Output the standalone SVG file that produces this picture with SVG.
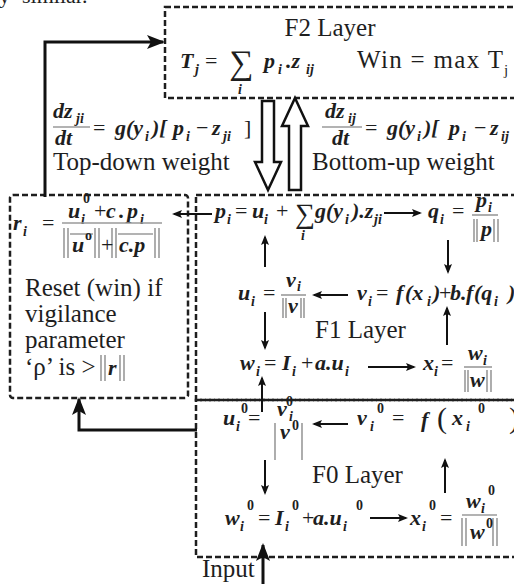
<svg xmlns="http://www.w3.org/2000/svg" width="514" height="584" viewBox="0 0 514 584">
<style>
text{font-family:"Liberation Serif","Times New Roman",serif;fill:#1e1e1e}
.t{font-size:25px}
.m{font-size:22px;font-weight:bold;font-style:italic}
.s{font-size:14px;font-weight:bold;font-style:italic}
.z{font-size:14px;font-weight:bold}
.o{font-size:22px}
.box{fill:none;stroke:#1e1e1e;stroke-width:2.5;stroke-dasharray:6 3}
.c{fill:none;stroke:#111;stroke-width:3}
.a{fill:none;stroke:#111;stroke-width:2}
.n{stroke:#9a9a9a;stroke-width:1.6;fill:none}
.h{fill:#fff;stroke:#111;stroke-width:2.5}
</style>
<defs>
<marker id="ab" markerUnits="userSpaceOnUse" markerWidth="18" markerHeight="14" refX="16" refY="7" orient="auto"><path d="M0,0 L18,7 L0,14 L4,7 z" fill="#111"/></marker>
<marker id="as" markerUnits="userSpaceOnUse" markerWidth="10" markerHeight="8" refX="8" refY="4" orient="auto"><path d="M0,0 L10,4 L0,8 L2,4 z" fill="#111"/></marker>
</defs>

<text x="-1" y="2.5" font-size="22">y</text><text x="22" y="2.5" font-size="22">similar.</text>

<g id="F2">
<rect class="box" x="165" y="7" width="400" height="91"/>
<text class="t" x="330" y="36" text-anchor="middle">F2 Layer</text>
<text class="m" x="180" y="68" font-size="23">T</text><text class="s" x="195" y="74">j</text>
<text class="o" x="205" y="68">=</text>
<text x="229" y="74" font-size="34">∑</text><text class="s" x="238" y="94">i</text>
<text class="m" x="264" y="68">p</text><text class="s" x="278" y="74">i</text>
<text class="m" x="286" y="68">.z</text><text class="s" x="306" y="74">ij</text>
<text class="t" x="357" y="68" font-size="26" textLength="146" lengthAdjust="spacing">Win = max T</text><text x="504" y="75" font-size="15">j</text>
</g>

<g id="topdown">
<text class="m" x="53" y="118">dz</text><text class="s" x="76" y="123">ji</text>
<line class="n" x1="53" y1="127" x2="90" y2="127"/>
<text class="m" x="55" y="145">dt</text>
<text class="o" x="93" y="135">=</text>
<text class="m" x="115" y="135">g(y</text><text class="s" x="145" y="141">i</text>
<text class="m" x="152" y="135">)[</text>
<text class="m" x="173" y="135">p</text><text class="s" x="186" y="141">i</text>
<text class="o" x="196" y="135">−</text>
<text class="m" x="212" y="135">z</text><text class="s" x="223" y="141">ji</text>
<text class="o" x="244" y="135">]</text>
<text class="t" x="53" y="170">Top-down weight</text>
</g>

<g id="bottomup">
<text class="m" x="325" y="118">dz</text><text class="s" x="348" y="123">ij</text>
<line class="n" x1="322" y1="127" x2="362" y2="127"/>
<text class="m" x="332" y="145">dt</text>
<text class="o" x="365" y="135">=</text>
<text class="m" x="387" y="135">g(y</text><text class="s" x="417" y="141">i</text>
<text class="m" x="424" y="135">)[</text>
<text class="m" x="449" y="135">p</text><text class="s" x="462" y="141">i</text>
<text class="o" x="474" y="135">−</text>
<text class="m" x="490" y="135">z</text><text class="s" x="501" y="141">ij</text>
<text class="t" x="312" y="170">Bottom-up weight</text>
</g>

<g id="hollow">
<polygon class="h" points="262,101 274,101 274,162 281,162 268,190 255,162 262,162"/>
<polygon class="h" points="295,98 308,126 301,126 301,190 289,190 289,126 282,126"/>
</g>

<g id="reset">
<rect class="box" x="10" y="195" width="178" height="203" rx="3"/>
<text class="m" x="13" y="230">r</text><text class="s" x="23" y="236">i</text>
<text class="o" x="42" y="230">=</text>
<text class="m" x="68" y="218">u</text><text class="s" x="81" y="224">i</text><text class="z" x="83" y="203">0</text>
<text class="o" x="94" y="218">+</text>
<text class="m" x="106" y="218">c</text><text class="m" x="119" y="218">.</text><text class="m" x="127" y="218">p</text><text class="s" x="140" y="224">i</text>
<line class="n" x1="62" y1="223" x2="162" y2="223"/>
<path class="n" d="M64,228V258M68,228V258M95,228V258M99,228V258M112,228V258M116,228V258M155,228V258M159,228V258M70,234H93M118,234H153"/>
<text class="m" x="72" y="252">u</text><text class="z" x="85" y="240" font-size="10">o</text>
<text class="o" x="101" y="252">+</text>
<text class="m" x="119" y="252">c.p</text>
<text class="t" x="25" y="296">Reset (win) if</text>
<text class="t" x="25" y="322">vigilance</text>
<text class="t" x="25" y="348">parameter</text>
<text class="t" x="25" y="375">‘ρ’ is &gt;</text>
<path class="n" d="M101,355V381M105,355V381M120,355V381M124,355V381"/>
<text class="m" x="108" y="375">r</text>
</g>

<g id="F1">
<rect class="box" x="196" y="195" width="330" height="205"/>
<text class="m" x="215" y="218">p</text><text class="s" x="227" y="224">i</text>
<text class="o" x="235" y="218">=</text>
<text class="m" x="252" y="218">u</text><text class="s" x="264" y="224">i</text>
<text class="o" x="276" y="218">+</text>
<text x="295" y="223" font-size="28">∑</text><text class="s" x="301" y="240">i</text>
<text class="m" x="315" y="218">g(y</text><text class="s" x="345" y="224">i</text>
<text class="m" x="352" y="218">).z</text><text class="s" x="374" y="224">ji</text>
<text class="m" x="428" y="218">q</text><text class="s" x="440" y="224">i</text>
<text class="o" x="452" y="218">=</text>
<text class="m" x="476" y="207">p</text><text class="s" x="488" y="212">i</text>
<line class="n" x1="472" y1="215" x2="498" y2="215"/>
<path class="n" d="M474,219V242M477,219V242M494,219V242M498,219V242"/>
<text class="m" x="481" y="236">p</text>

<text class="m" x="238" y="300">u</text><text class="s" x="251" y="306">i</text>
<text class="o" x="263" y="300">=</text>
<text class="m" x="286" y="287">v</text><text class="s" x="297" y="291">i</text>
<line class="n" x1="281" y1="295" x2="306" y2="295"/>
<path class="n" d="M283,298V318M286,298V318M301,298V318M304,298V318"/>
<text class="m" x="288" y="313">v</text>
<text class="m" x="357" y="300">v</text><text class="s" x="368" y="306">i</text>
<text class="o" x="376" y="300">=</text>
<text class="m" x="396" y="300">f</text><text class="m" x="405" y="300">(x</text><text class="s" x="427" y="306">i</text>
<text class="m" x="433" y="300">)</text><text class="o" x="439" y="300">+</text>
<text class="m" x="450" y="300">b.</text><text class="m" x="466" y="300">f</text><text class="m" x="474" y="300">(q</text><text class="s" x="494" y="306">i</text><text class="m" x="508" y="300">)</text>

<text class="t" x="315" y="338">F1 Layer</text>

<text class="m" x="240" y="370">w</text><text class="s" x="256" y="376">i</text>
<text class="o" x="264" y="370">=</text>
<text class="m" x="282" y="370">I</text><text class="s" x="292" y="376">i</text>
<text class="o" x="301" y="370">+</text>
<text class="m" x="315" y="370">a.u</text><text class="s" x="345" y="376">i</text>
<text class="m" x="423" y="370">x</text><text class="s" x="434" y="376">i</text>
<text class="o" x="441" y="370">=</text>
<text class="m" x="468" y="360">w</text><text class="s" x="483" y="365">i</text>
<line class="n" x1="464" y1="367" x2="492" y2="367"/>
<path class="n" d="M465,370V392M468,370V392M487,370V392M491,370V392"/>
<text class="m" x="470" y="387">w</text>
</g>

<g id="F0">
<rect class="box" x="196" y="400" width="330" height="157"/>
<text class="m" x="223" y="425">u</text><text class="s" x="236" y="431">i</text><text class="z" x="241" y="413">0</text>
<text class="o" x="248" y="425">=</text>
<text class="m" x="277" y="416">v</text><text class="s" x="289" y="421">i</text><text class="z" x="286" y="406">0</text>
<path class="n" d="M275,423V460M302,423V460"/>
<text class="m" x="280" y="439">v</text><text class="z" x="292" y="430">0</text>
<text class="m" x="357" y="425">v</text><text class="s" x="370" y="431">i</text><text class="z" x="377" y="413">0</text>
<text class="o" x="392" y="425">=</text>
<text class="m" x="421" y="427" font-size="26">f</text>
<text x="437" y="428" font-size="30">(</text>
<text class="m" x="452" y="425">x</text><text class="s" x="466" y="431">i</text><text class="z" x="478" y="413">0</text>
<text x="509" y="428" font-size="30">)</text>

<text class="t" x="312" y="483">F0 Layer</text>

<text class="m" x="225" y="525">w</text><text class="s" x="240" y="531">i</text><text class="z" x="247" y="510">0</text>
<text class="o" x="258" y="525">=</text>
<text class="m" x="275" y="525">I</text><text class="s" x="285" y="531">i</text><text class="z" x="292" y="510">0</text>
<text class="o" x="302" y="525">+</text>
<text class="m" x="313" y="525">a.u</text><text class="s" x="343" y="531">i</text><text class="z" x="356" y="510">0</text>
<text class="m" x="410" y="525">x</text><text class="s" x="422" y="531">i</text><text class="z" x="429" y="510">0</text>
<text class="o" x="440" y="525">=</text>
<text class="m" x="466" y="508">w</text><text class="s" x="481" y="513">i</text><text class="z" x="488" y="495">0</text>
<line class="n" x1="462" y1="515" x2="497" y2="515"/>
<path class="n" d="M462,518V546M466,518V546M493,518V546M497,518V546"/>
<text class="m" x="470" y="539">w</text><text class="z" x="486" y="528">0</text>
</g>

<text class="t" x="202" y="577">Input</text>

<g id="connectors">
<path class="c" d="M45,197 L45,42 L163,42" marker-end="url(#ab)"/>
<path class="c" d="M197,430 L79,430 L79,399" marker-end="url(#ab)"/>
<path class="c" d="M263,584 L263,545" marker-end="url(#ab)"/>
<path class="a" d="M212,214 L174,214" marker-end="url(#as)"/>
<path class="a" d="M384,213 L420,213" marker-end="url(#as)"/>
<path class="a" d="M265,267 L265,237" marker-end="url(#as)"/>
<path class="a" d="M448,240 L448,272" marker-end="url(#as)"/>
<path class="a" d="M348,295 L314,295" marker-end="url(#as)"/>
<path class="a" d="M265,312 L265,348" marker-end="url(#as)"/>
<path class="a" d="M447,345 L447,308" marker-end="url(#as)"/>
<path class="a" d="M368,367 L414,367" marker-end="url(#as)"/>
<path class="a" d="M262,412 L262,378" marker-end="url(#as)"/>
<path class="a" d="M348,424 L314,424" marker-end="url(#as)"/>
<path class="a" d="M265,460 L265,493" marker-end="url(#as)"/>
<path class="a" d="M445,493 L445,460" marker-end="url(#as)"/>
<path class="a" d="M370,518 L406,518" marker-end="url(#as)"/>
</g>
</svg>
